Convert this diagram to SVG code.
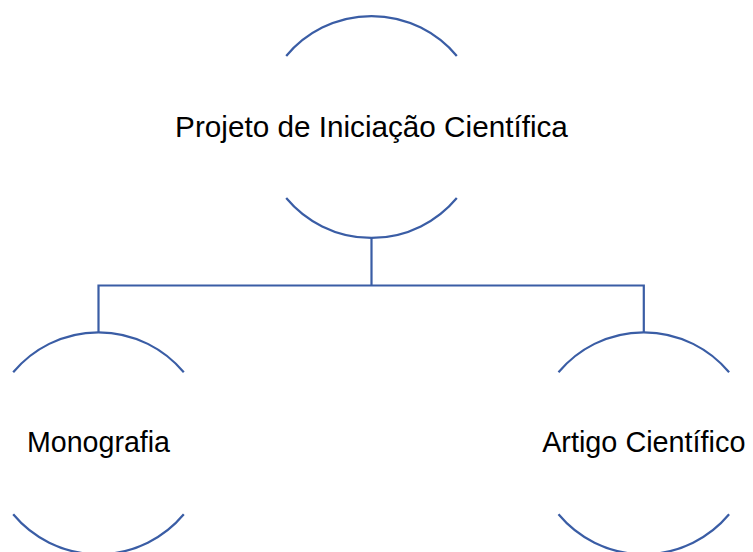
<svg xmlns="http://www.w3.org/2000/svg" width="753" height="552" viewBox="0 0 753 552">
<style>
.arc{fill:none;stroke:#3a5da5;stroke-width:2.2}
.con{fill:none;stroke:#3a5da5;stroke-width:2.2}
.lbl{font-family:"Liberation Sans",Arial,sans-serif;fill:#000;text-anchor:middle}
</style>
<rect width="753" height="552" fill="#fff"/>
<g id="connectors">
<path class="con" d="M371.5,238 V285.5 M98.5,332.3 V285.5 H643.8 V332.3"/>
</g>
<g id="node-projeto">
<path class="arc" d="M286.2,56 A111,111 0 0 1 456.8,56"/>
<path class="arc" d="M286.2,198 A111,111 0 0 0 456.8,198"/>
<text class="lbl" x="371.5" y="136.5" font-size="29.7">Projeto de Iniciação Científica</text>
</g>
<g id="node-monografia">
<path class="arc" d="M13.2,372.3 A111,111 0 0 1 183.8,372.3"/>
<path class="arc" d="M13.2,514.3 A111,111 0 0 0 183.8,514.3"/>
<text class="lbl" x="98.5" y="452" font-size="28.6">Monografia</text>
</g>
<g id="node-artigo">
<path class="arc" d="M558.5,372.3 A111,111 0 0 1 729.1,372.3"/>
<path class="arc" d="M558.5,514.3 A111,111 0 0 0 729.1,514.3"/>
<text class="lbl" x="643.8" y="452" font-size="28.8">Artigo Científico</text>
</g>
</svg>
